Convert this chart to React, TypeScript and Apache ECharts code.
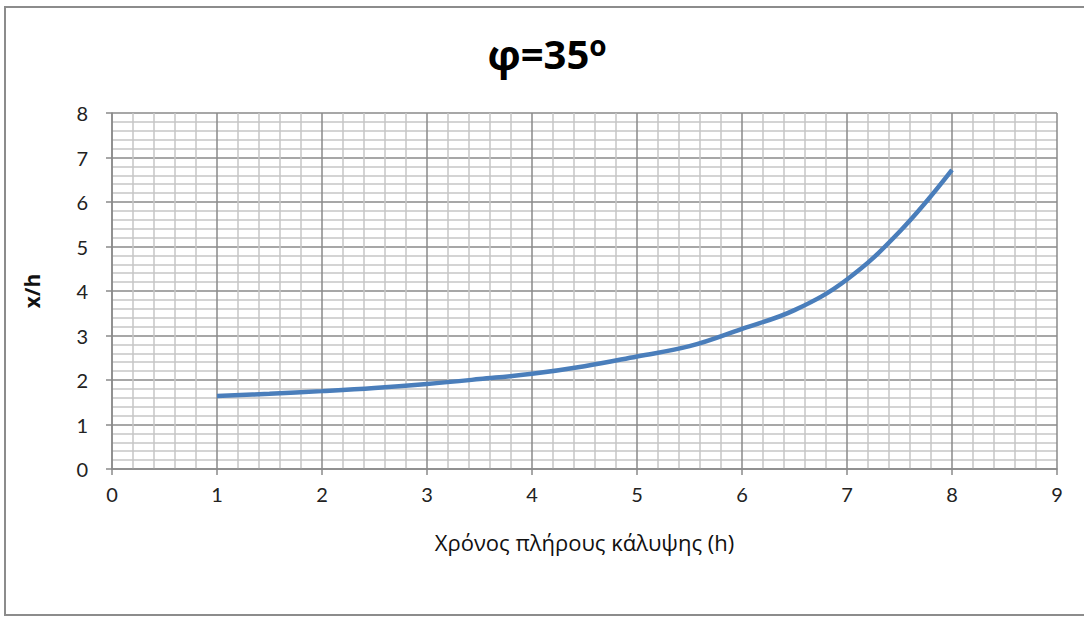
import React, { useEffect, useRef } from "react";
import * as echarts from "echarts";

const xValues = [1, 1.5, 2, 2.5, 3, 3.5, 4, 4.5, 5, 5.5, 6, 6.5, 7, 7.5, 8];
const yValues = [1.64, 1.69, 1.75, 1.82, 1.91, 2.02, 2.14, 2.31, 2.53, 2.76, 3.15, 3.57, 4.26, 5.33, 6.72];
const titlePhi = "φ";
const titleMain = "=35";
const titleSup = "ο";
const xAxisName = "Χρόνος πλήρους κάλυψης (h)";
const yAxisName = "x/h";

export default function App() {
  const ref = useRef<HTMLDivElement>(null);
  useEffect(() => {
    if (!ref.current) return;
    const chart = echarts.init(ref.current, null, { renderer: "svg" });
    const font = "'Open Sans', 'Noto Sans', sans-serif";
    const axisCommon = {
      type: "value" as const,
      interval: 1,
      axisLine: { show: true, lineStyle: { color: "#8a8a8a", width: 1.5 } },
      axisTick: { show: true, length: 6, lineStyle: { color: "#8a8a8a", width: 1.5 } },
      splitLine: { show: true, lineStyle: { color: "#8a8a8a", width: 1.5 } },
      minorTick: { show: false, splitNumber: 5 },
      minorSplitLine: { show: true, lineStyle: { color: "#c6c6c6", width: 1.5 } },
    };
    chart.setOption({
      animation: false,
      backgroundColor: "#fff",
      title: {
        text: "{p|" + titlePhi + "}{m|" + titleMain + "}{s|" + titleSup + "}",
        left: 542,
        textAlign: "center",
        top: 26,
        textStyle: {
          rich: {
            p: { fontSize: 42, fontWeight: "bold", fontFamily: font, color: "#000" },
            m: { fontSize: 40, fontWeight: "bold", fontFamily: font, color: "#000" },
            s: { fontSize: 28, fontWeight: "bold", fontFamily: font, color: "#000", verticalAlign: "top", padding: [0, 0, 16, 0] },
          },
        },
      },
      grid: { left: 112, right: 27, top: 113, bottom: 149, containLabel: false },
      xAxis: {
        ...axisCommon,
        min: 0,
        max: 9,
        axisLabel: { show: true, color: "#222", fontSize: 20, fontFamily: "Lato, sans-serif", margin: 15 },
        name: xAxisName,
        nameLocation: "middle",
        nameGap: 62,
        nameTextStyle: { fontSize: 22, fontFamily: font, color: "#111" },
      },
      yAxis: {
        ...axisCommon,
        min: 0,
        max: 8,
        axisLabel: { show: true, color: "#222", fontSize: 20, fontFamily: "Lato, sans-serif", margin: 24 },
        name: yAxisName,
        nameLocation: "middle",
        nameGap: 70,
        nameRotate: 90,
        nameTextStyle: { fontSize: 21, fontWeight: "bold", fontFamily: font, color: "#111" },
      },
      graphic: [
        {
          type: "rect",
          shape: { x: 5, y: 7, width: 1090, height: 608 },
          style: { fill: "none", stroke: "#8c8c8c", lineWidth: 2 },
          silent: true,
          z: 100,
        },
      ],
      series: [
        {
          type: "line",
          data: xValues.map((x, i) => [x, yValues[i]]),
          smooth: 0.4,
          showSymbol: false,
          lineStyle: { color: "#4a7ebb", width: 4.5 },
        },
      ],
    });
    return () => chart.dispose();
  }, []);
  return <div ref={ref} style={{ position: "absolute", left: 0, top: 0, width: 1084, height: 618 }} />;
}
